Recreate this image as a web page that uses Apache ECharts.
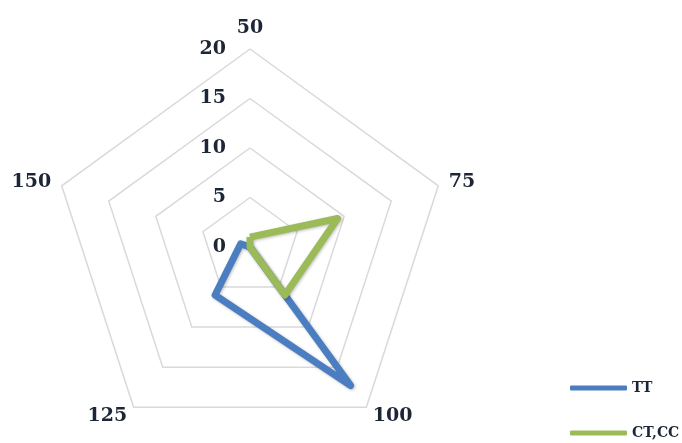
<!DOCTYPE html>
<html>
<head>
<meta charset="utf-8">
<script src="https://cdn.jsdelivr.net/npm/echarts@6/dist/echarts.min.js"></script>
<style>
html,body{margin:0;padding:0;background:#fff;}
#chart{width:682px;height:443px;}
</style>
</head>
<body>
<div id="chart"></div>
<script>
// Indicator categories (clockwise from top)
const categories = ['50', '75', '100', '125', '150'];
const axisMax = 20;
const seriesNames = ['TT', 'CT,CC'];
const ttValues = [0, 0, 17.3, 6.0, 1.0];
const ctccValues = [1.0, 9.3, 6.0, 0, 0];

const textColor = '#1d2636';
const fontFamily = '"DejaVu Serif", serif';

// ECharts radar runs counter-clockwise; reorder so categories run clockwise
const order = [0, 4, 3, 2, 1];
const reorder = arr => order.map(i => arr[i]);

const chart = echarts.init(document.getElementById('chart'));
const indicator = reorder(categories).map((c, i) => {
  const ind = { name: c, min: 0, max: axisMax };
  if (i === 0) {
    ind.axisLabel = {
      show: true, color: textColor, fontWeight: 'bold', fontSize: 19,
      fontFamily: fontFamily, margin: 24, showMinLabel: true, showMaxLabel: true
    };
  }
  return ind;
});

const legendBase = {
  orient: 'vertical',
  left: 565,
  itemWidth: 57,
  itemHeight: 5,
  icon: 'roundRect',
  textStyle: { color: textColor, fontWeight: 'bold', fontSize: 14, fontFamily: fontFamily }
};

chart.setOption({
  animation: false,
  backgroundColor: '#fff',
  legend: [
    Object.assign({}, legendBase, { top: 376, data: [seriesNames[0]] }),
    Object.assign({}, legendBase, { top: 421, data: [seriesNames[1]] })
  ],
  radar: {
    center: [250, 247],
    radius: 198,
    startAngle: 90,
    splitNumber: 4,
    shape: 'polygon',
    indicator: indicator,
    nameGap: 11,
    axisName: { color: textColor, fontWeight: 'bold', fontSize: 19, fontFamily: fontFamily },
    axisLine: { show: false },
    axisTick: { show: false },
    axisLabel: { show: false },
    splitArea: { show: false },
    splitLine: { lineStyle: { color: '#d9d9d9', width: 1.5 } }
  },
  series: [{
    type: 'radar',
    symbol: 'none',
    data: [
      { name: seriesNames[0], value: reorder(ttValues),
        lineStyle: { color: '#4a7ec0', width: 7, shadowColor: 'rgba(0,0,0,0.25)', shadowBlur: 3, shadowOffsetX: 1, shadowOffsetY: 1 },
        itemStyle: { color: '#4a7ec0' } },
      { name: seriesNames[1], value: reorder(ctccValues),
        lineStyle: { color: '#9bbb59', width: 7, shadowColor: 'rgba(0,0,0,0.25)', shadowBlur: 3, shadowOffsetX: 1, shadowOffsetY: 1 },
        itemStyle: { color: '#9bbb59' } }
    ]
  }]
});
</script>
</body>
</html>
